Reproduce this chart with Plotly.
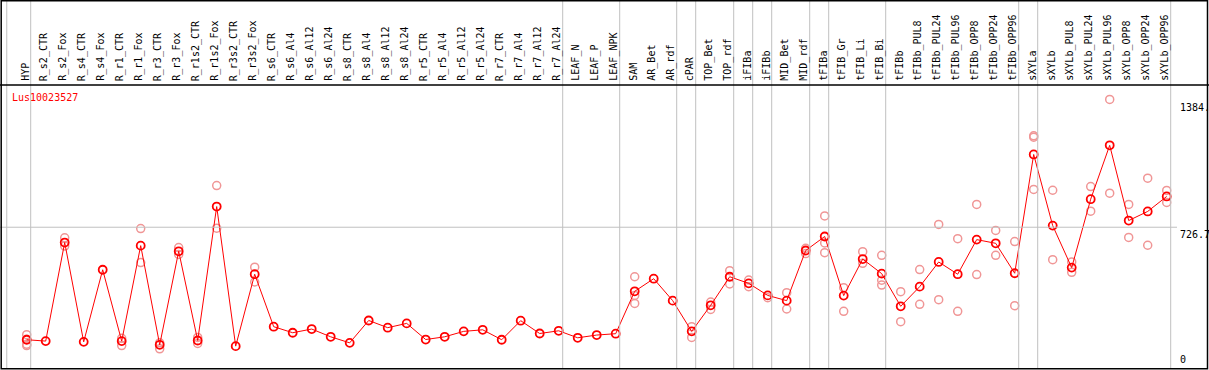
import plotly.graph_objects as go

categories = ["HYP", "R_s2_CTR", "R_s2_Fox", "R_s4_CTR", "R_s4_Fox", "R_r1_CTR", "R_r1_Fox",
              "R_r3_CTR", "R_r3_Fox", "R_r1s2_CTR", "R_r1s2_Fox", "R_r3s2_CTR", "R_r3s2_Fox",
              "R_s6_CTR", "R_s6_Al4", "R_s6_Al12", "R_s6_Al24", "R_s8_CTR", "R_s8_Al4", "R_s8_Al12",
              "R_s8_Al24", "R_r5_CTR", "R_r5_Al4", "R_r5_Al12", "R_r5_Al24", "R_r7_CTR", "R_r7_Al4",
              "R_r7_Al12", "R_r7_Al24", "LEAF_N", "LEAF_P", "LEAF_NPK", "SAM", "AR_Bet", "AR_rdf",
              "cPAR", "TOP_Bet", "TOP_rdf", "iFIBa", "iFIBb", "MID_Bet", "MID_rdf", "tFIBa",
              "tFIB_Gr", "tFIB_Li", "tFIB_Bi", "tFIBb", "tFIBb_PUL8", "tFIBb_PUL24", "tFIBb_PUL96",
              "tFIBb_OPP8", "tFIBb_OPP24", "tFIBb_OPP96", "sXYLa", "sXYLb", "sXYLb_PUL8",
              "sXYLb_PUL24", "sXYLb_PUL96", "sXYLb_OPP8", "sXYLb_OPP24", "sXYLb_OPP96"]

means = [148, 141, 648, 137, 508, 141, 632, 122, 603, 144, 833, 115, 485, 215, 184, 203, 163,
         132, 247, 210, 232, 149, 163, 191, 199, 148, 246, 180, 194, 158, 172, 179, 397, 462,
         349, 191, 325, 472, 438, 376, 349, 607, 679, 375, 563, 488, 320, 421, 548, 485, 663,
         644, 490, 1101, 735, 519, 871, 1148, 761, 808, 885]

replicates = [
    [174, 150, 125, 118], [], [672, 630], [], [], [155, 118], [720, 545], [132, 101],
    [622, 587], [160, 129], [941, 722], [], [521, 445], [], [], [], [], [], [], [], [],
    [], [], [], [], [], [], [], [], [], [], [], [472, 376, 335], [], [], [215, 160],
    [342, 304], [503, 435], [455, 421], [364], [390, 306], [618, 591], [785, 646, 596],
    [416, 294], [601, 541], [582, 454, 429], [395, 241], [509, 330], [741, 354], [668, 294],
    [844, 483], [710, 582], [653, 323], [1197, 1190, 921], [917, 560], [548, 495],
    [936, 809], [1384, 902], [844, 674], [979, 634], [916, 854]]

# last category index of each sample group (vertical separators)
group_ends = [0, 28, 31, 34, 35, 37, 38, 39, 41, 42, 45, 52, 53, 60]

title_text = "Lus10023527"
max_val = 1384
mid_val = 726.7

W, H = 1209, 370
FONT = "DejaVu Sans Mono"
RED = "#ff0000"
PINK = "rgb(240,150,150)"
GRID = "rgb(192,192,192)"

x0_px, step_px = 26.7, 19.0
top_px, bot_px, head_px = 86.0, 368.5, 85.0
ymax = max_val * 1.05

def px2x(px):
    return (px - x0_px) / step_px

def py2paper(py):
    return (H - py) / H

fig = go.Figure()

rx, ry = [], []
for i, reps in enumerate(replicates):
    for v in reps:
        rx.append(i)
        ry.append(v)
fig.add_trace(go.Scatter(x=rx, y=ry, mode="markers",
                         marker=dict(symbol="circle-open", size=8, color=PINK,
                                     line=dict(width=1.5, color=PINK)),
                         hoverinfo="skip", showlegend=False))
fig.add_trace(go.Scatter(x=list(range(len(categories))), y=means, mode="lines+markers",
                         line=dict(color=RED, width=1),
                         marker=dict(symbol="circle-open", size=8, color=RED,
                                     line=dict(width=1.8, color=RED)),
                         showlegend=False))

shapes = []
# vertical group separators
for g in [-1.05] + [e + 0.21 for e in group_ends]:
    shapes.append(dict(type="line", xref="x", yref="paper", x0=g, x1=g,
                       y0=py2paper(368.5), y1=1, line=dict(color=GRID, width=1)))
# horizontal midline
shapes.append(dict(type="line", xref="paper", yref="y", x0=0, x1=1177 / W,
                   y0=mid_val, y1=mid_val, line=dict(color=GRID, width=1)))
# header separator
shapes.append(dict(type="line", xref="paper", yref="paper", x0=0, x1=1,
                   y0=py2paper(head_px), y1=py2paper(head_px), line=dict(color="black", width=1.5)))
# frame
shapes.append(dict(type="rect", xref="paper", yref="paper", x0=1.2 / W, x1=(W - 1.5) / W,
                   y0=py2paper(368.8), y1=py2paper(0.8), line=dict(color="black", width=1.5)))

annotations = []
for i, c in enumerate(categories):
    annotations.append(dict(x=i, xref="x", y=py2paper(83), yref="paper", text=c,
                            textangle=-90, showarrow=False, xanchor="center", yanchor="bottom",
                            xshift=-2, font=dict(family=FONT, size=10, color="black")))
annotations.append(dict(x=10 / W, xref="paper", y=py2paper(98), yref="paper", text=title_text,
                        showarrow=False, xanchor="left", yanchor="middle",
                        font=dict(family=FONT, size=10, color=RED)))
for val, txt, anc, sh in [(max_val, "1384.", "top", -1), (mid_val, "726.7", "top", 0),
                          (0, "0", "bottom", 2)]:
    annotations.append(dict(x=1178 / W, xref="paper", y=val, yref="y", text=txt,
                            showarrow=False, xanchor="left", yanchor=anc, yshift=sh,
                            font=dict(family=FONT, size=10, color="black")))

fig.update_layout(
    width=W, height=H, margin=dict(l=0, r=0, t=0, b=0),
    paper_bgcolor="white", plot_bgcolor="white",
    xaxis=dict(range=[px2x(0), px2x(W)], visible=False, fixedrange=True),
    yaxis=dict(range=[0, ymax], visible=False, fixedrange=True,
               domain=[py2paper(bot_px), py2paper(top_px)]),
    shapes=shapes, annotations=annotations, showlegend=False,
)

fig.write_html("out.html", config={"displayModeBar": False},
               post_script="document.body.style.margin='0';document.body.style.overflow='hidden';")
